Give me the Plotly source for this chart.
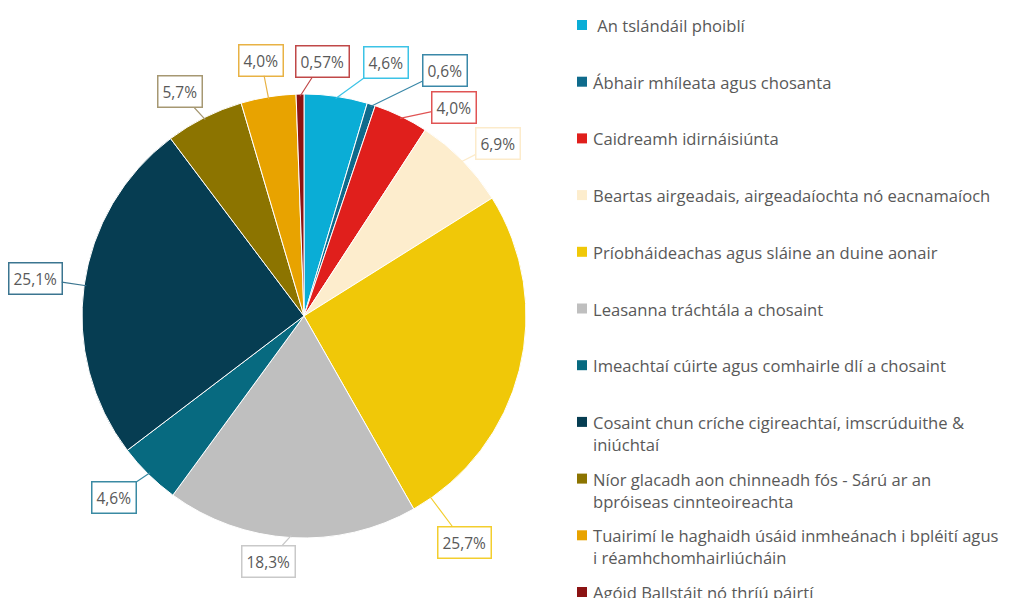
import math
import plotly.graph_objects as go

# ---------------- data ----------------
categories = [
    "\u00a0An tslándáil phoiblí",
    "Ábhair mhíleata agus chosanta",
    "Caidreamh idirnáisiúnta",
    "Beartas airgeadais, airgeadaíochta nó eacnamaíoch",
    "Príobháideachas agus sláine an duine aonair",
    "Leasanna tráchtála a chosaint",
    "Imeachtaí cúirte agus comhairle dlí a chosaint",
    "Cosaint chun críche cigireachtaí, imscrúduithe &amp;<br>iniúchtaí",
    "Níor glacadh aon chinneadh fós - Sárú ar an<br>bpróiseas cinnteoireachta",
    "Tuairimí le haghaidh úsáid inmheánach i bpléití agus<br>i réamhchomhairliúcháin",
    "Agóid Ballstáit nó thríú páirtí",
]
values = [4.6, 0.6, 4.0, 6.9, 25.7, 18.3, 4.6, 25.1, 5.7, 4.0, 0.57]
value_labels = ["4,6%", "0,6%", "4,0%", "6,9%", "25,7%", "18,3%", "4,6%",
                "25,1%", "5,7%", "4,0%", "0,57%"]

# ---------------- styles ----------------
slice_colors = ["#0AADD6", "#0F6B8C", "#E01F1C", "#FDEDCD", "#F0C808",
                "#BFBFBF", "#076A80", "#063D52", "#8C7400", "#E8A300", "#8B1313"]
label_border = ["#3CC3E6", "#3A88A8", "#E05454", "#FCEBCB", "#F3CE2E",
                "#C9C9C9", "#3A8AA3", "#3B7590", "#A69872", "#E8B244", "#C04848"]
# label box centres (page pixels from top-left) and where along each slice the leader points
label_box_px = [(386, 62), (445, 70), (454, 107), (498, 143), (464, 542),
                (268, 561), (114, 497), (35, 278), (180, 92), (261, 60), (322, 62)]
anchor_frac = [0.5, 0.5, 0.5, 0.5, 0.943, 0.5, 0.5, 0.5, 0.5, 0.5, 0.5]

OFF = 8                      # the page body margin: figure starts at (8, 8)
W, H = 1014 - OFF, 598 - OFF
CX, CY, R = 304 - OFF, 316 - OFF, 222
TEXT_COLOR = "#595959"
FONT = "Open Sans"


def px(x):
    return (x - OFF) / W


def py(y):
    return 1 - (y - OFF) / H


fig = go.Figure()
fig.add_trace(go.Pie(
    labels=categories,
    values=values,
    sort=False,
    direction="clockwise",
    rotation=0,
    textinfo="none",
    hoverinfo="label+percent",
    marker=dict(colors=slice_colors, line=dict(color="white", width=1)),
    domain=dict(x=[(CX - R) / W, (CX + R) / W], y=[1 - (CY + R) / H, 1 - (CY - R) / H]),
    showlegend=False,
))

# data labels (callouts) with leaders pointing at each slice
total = sum(values)
cum = 0.0
annotations = []
for i, v in enumerate(values):
    frac = (cum + v * anchor_frac[i]) / total
    cum += v
    ang = 2 * math.pi * frac
    tx = CX + R * 0.99 * math.sin(ang)
    ty = CY - R * 0.99 * math.cos(ang)
    bx, by = label_box_px[i][0] - OFF, label_box_px[i][1] - OFF
    annotations.append(dict(
        x=tx / W, y=1 - ty / H, xref="paper", yref="paper",
        ax=bx - tx, ay=by - ty, axref="pixel", ayref="pixel",
        text=value_labels[i], showarrow=True, arrowhead=0, arrowwidth=1.2,
        arrowcolor=label_border[i], standoff=0,
        bordercolor=label_border[i], borderwidth=1.5, borderpad=4,
        bgcolor="white", font=dict(family=FONT, size=15.5, color=TEXT_COLOR),
    ))

# legend (right side)
LEG_X0, LEG_Y0, LEG_DY = 577, 25, 56.7
shapes = []
for i, name in enumerate(categories):
    yc = LEG_Y0 + i * LEG_DY
    shapes.append(dict(type="rect", xref="paper", yref="paper",
                       x0=px(LEG_X0), x1=px(LEG_X0 + 10),
                       y0=py(yc + 5), y1=py(yc - 5),
                       fillcolor=slice_colors[i], line=dict(width=0)))
    annotations.append(dict(
        x=px(LEG_X0 + 14), y=py(yc - 13), xref="paper", yref="paper",
        xanchor="left", yanchor="top", align="left", showarrow=False,
        text=name, font=dict(family=FONT, size=16.6, color=TEXT_COLOR),
    ))

fig.update_layout(
    width=W, height=H,
    margin=dict(l=0, r=0, t=0, b=0),
    paper_bgcolor="white", plot_bgcolor="white",
    annotations=annotations, shapes=shapes,
)
fig.write_html("out.html")
